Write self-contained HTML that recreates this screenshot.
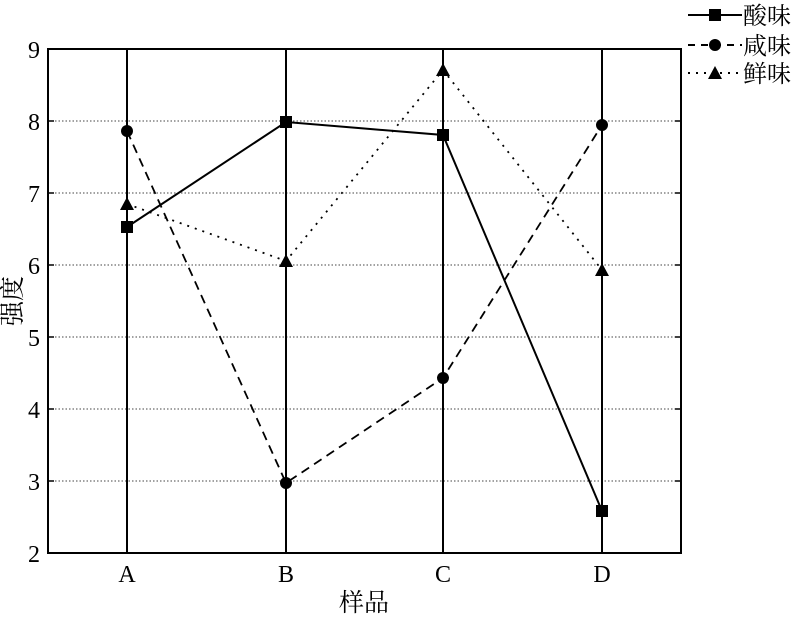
<!DOCTYPE html>
<html><head><meta charset="utf-8"><style>html,body{margin:0;padding:0;background:#fff}</style></head>
<body>
<svg width="800" height="615" xmlns="http://www.w3.org/2000/svg" font-family="'Liberation Serif','Noto Serif CJK SC',serif">
<rect x="0" y="0" width="800" height="615" fill="#fff"/>
<g stroke="#444" stroke-width="1" stroke-dasharray="1.5,2">
<line x1="48" y1="121" x2="681" y2="121"/>
<line x1="48" y1="193" x2="681" y2="193"/>
<line x1="48" y1="265" x2="681" y2="265"/>
<line x1="48" y1="337" x2="681" y2="337"/>
<line x1="48" y1="409" x2="681" y2="409"/>
<line x1="48" y1="481" x2="681" y2="481"/>
</g>
<g stroke="#000" stroke-width="2">
<line x1="127" y1="49" x2="127" y2="553"/>
<line x1="286" y1="49" x2="286" y2="553"/>
<line x1="443" y1="49" x2="443" y2="553"/>
<line x1="602" y1="49" x2="602" y2="553"/>
</g>
<rect x="48" y="49" width="633" height="504" fill="none" stroke="#000" stroke-width="2"/>
<g stroke="#000" stroke-width="1.5">
<line x1="48" y1="121" x2="54" y2="121"/><line x1="48" y1="193" x2="54" y2="193"/><line x1="48" y1="265" x2="54" y2="265"/><line x1="48" y1="337" x2="54" y2="337"/><line x1="48" y1="409" x2="54" y2="409"/><line x1="48" y1="481" x2="54" y2="481"/>
<line x1="681" y1="121" x2="675" y2="121"/><line x1="681" y1="193" x2="675" y2="193"/><line x1="681" y1="265" x2="675" y2="265"/><line x1="681" y1="337" x2="675" y2="337"/><line x1="681" y1="409" x2="675" y2="409"/><line x1="681" y1="481" x2="675" y2="481"/>
</g>
<polyline points="127,227 286,122 443,135 602,511" fill="none" stroke="#000" stroke-width="2"/>
<polyline points="127,131 286,483 443,378 602,125" fill="none" stroke="#000" stroke-width="1.8" stroke-dasharray="9,6"/>
<polyline points="127,204 286,261 443,70 602,270" fill="none" stroke="#000" stroke-width="1.8" stroke-dasharray="2,6"/>
<g fill="#000">
<rect x="121" y="221" width="12" height="12"/><rect x="280" y="116" width="12" height="12"/><rect x="437" y="129" width="12" height="12"/><rect x="596" y="505" width="12" height="12"/>
<circle cx="127" cy="131" r="6"/><circle cx="286" cy="483" r="6"/><circle cx="443" cy="378" r="6"/><circle cx="602" cy="125" r="6"/>
<polygon points="127,197 134,210 120,210"/><polygon points="286,254 293,267 279,267"/><polygon points="443,63 450,76 436,76"/><polygon points="602,263 609,276 595,276"/>
</g>
<g font-size="24" fill="#000" text-anchor="end">
<text x="40" y="58">9</text><text x="40" y="130">8</text><text x="40" y="202">7</text><text x="40" y="274">6</text><text x="40" y="346">5</text><text x="40" y="418">4</text><text x="40" y="490">3</text><text x="40" y="562">2</text>
</g>
<g font-size="24" fill="#000" text-anchor="middle">
<text x="127" y="582">A</text><text x="286" y="582">B</text><text x="443" y="582">C</text><text x="602" y="582">D</text>
</g>
<g font-size="25" fill="#000" text-anchor="middle">
<text x="364" y="611">样品</text>
<text transform="translate(21,301) rotate(-90)">强度</text>
</g>
<g stroke="#000" stroke-width="2" fill="none">
<line x1="688" y1="15" x2="742" y2="15"/>
<line x1="688" y1="45" x2="742" y2="45" stroke-dasharray="7,6"/>
<line x1="688" y1="73" x2="742" y2="73" stroke-dasharray="2,6"/>
</g>
<g fill="#000">
<rect x="709" y="9" width="12" height="12"/>
<circle cx="715" cy="45" r="6"/>
<polygon points="715,66 722,79 708,79"/>
</g>
<g font-size="24" fill="#000">
<text x="743" y="24">酸味</text><text x="743" y="54">咸味</text><text x="743" y="82">鲜味</text>
</g>
</svg>
</body></html>
